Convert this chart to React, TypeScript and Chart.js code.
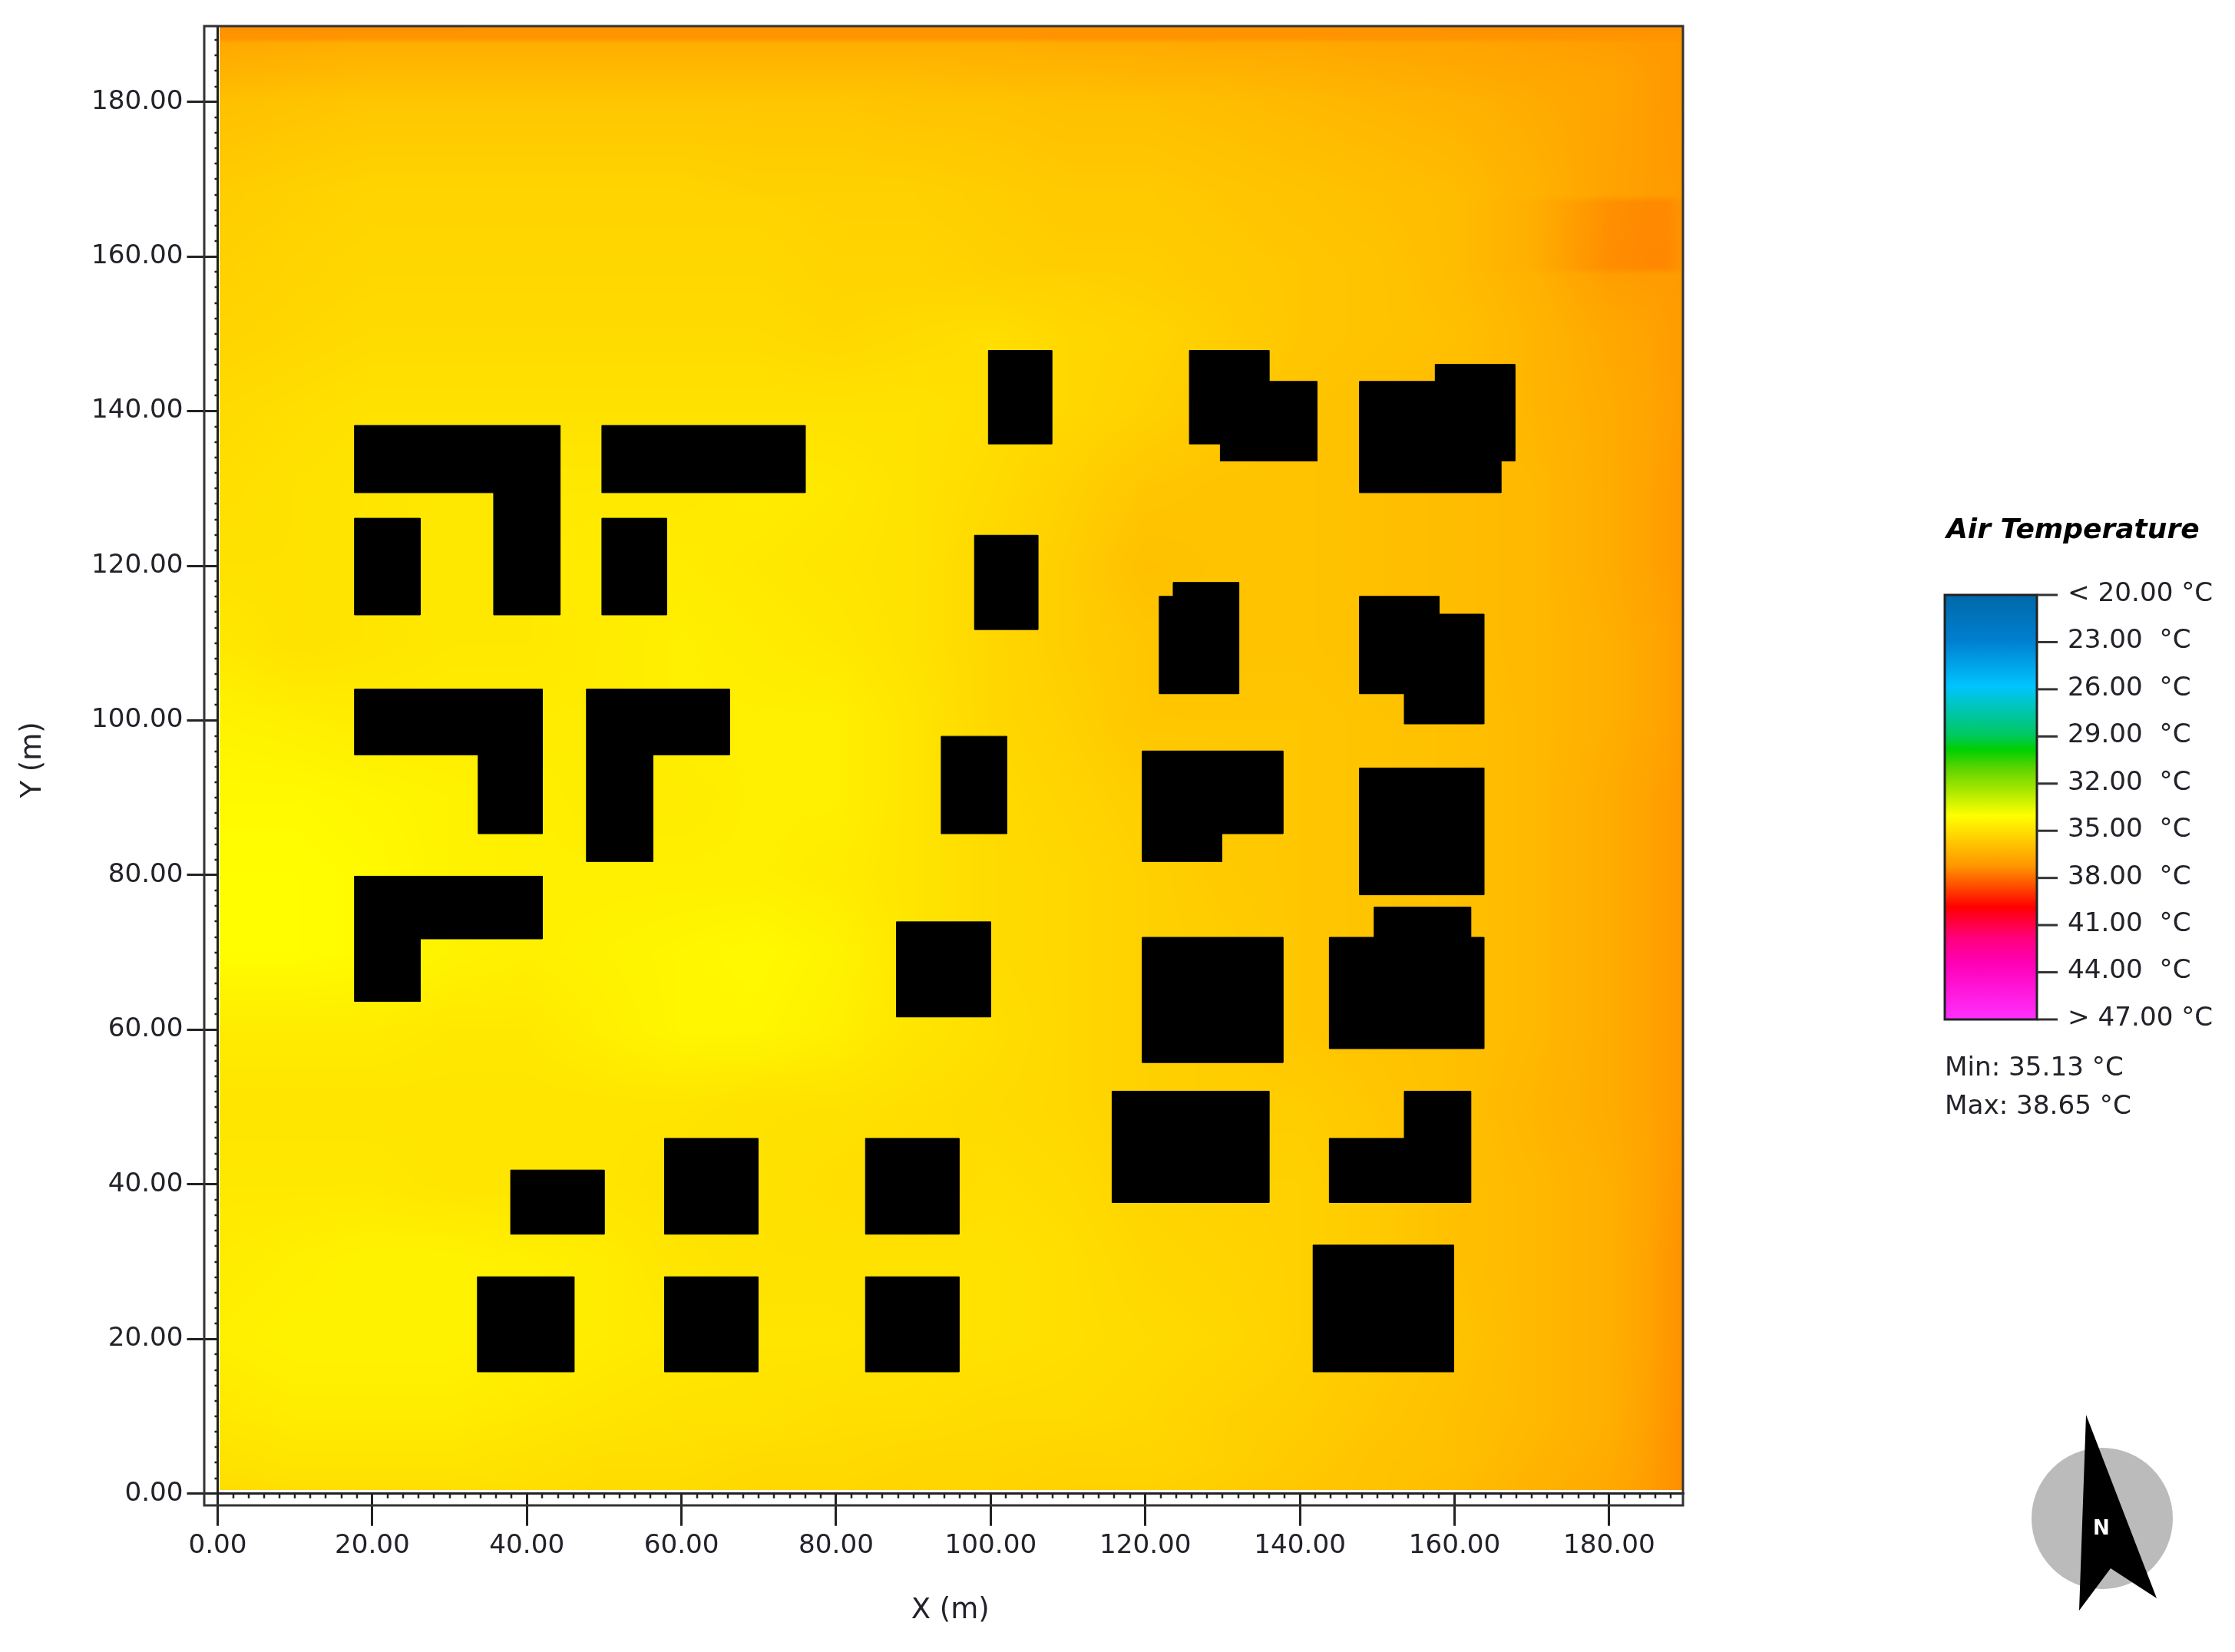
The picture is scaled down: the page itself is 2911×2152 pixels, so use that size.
import React, { useEffect, useRef } from "react";
import { Chart, registerables } from "chart.js";

Chart.register(...registerables);

// ---------- data ----------
const xGrid = [0, 10, 20, 30, 40, 50, 60, 70, 80, 90, 100, 110, 120, 130, 140, 150, 160, 170, 180, 185, 187.5, 190];
const yGrid = [190, 188.2, 187.6, 183, 180, 168, 167, 158.6, 157.6, 150, 140, 130, 120, 110, 100, 90, 80, 70, 60, 50, 40, 30, 20, 10, 4, 0];
const airTemperature = [
  [38.4, 38.4, 38.4, 38.4, 38.3, 38.3, 38.3, 38.3, 38.3, 38.3, 38.3, 38.3, 38.3, 38.3, 38.3, 38.3, 38.4, 38.4, 38.4, 38.4, 38.4, 38.4],
  [38.3, 38.3, 38.3, 38.3, 38.3, 38.3, 38.3, 38.3, 38.3, 38.3, 38.3, 38.3, 38.3, 38.3, 38.3, 38.3, 38.3, 38.3, 38.3, 38.3, 38.3, 38.3],
  [37.7, 37.6, 37.5, 37.5, 37.5, 37.5, 37.5, 37.5, 37.5, 37.5, 37.5, 37.6, 37.6, 37.7, 37.7, 37.8, 37.8, 37.9, 38.0, 38.1, 38.1, 38.2],
  [37.3, 37.2, 37.1, 37.1, 37.1, 37.1, 37.1, 37.1, 37.1, 37.1, 37.2, 37.2, 37.3, 37.3, 37.4, 37.5, 37.6, 37.7, 37.8, 38.0, 38.1, 38.2],
  [37.0, 36.9, 36.8, 36.8, 36.8, 36.8, 36.8, 36.8, 36.8, 36.9, 36.9, 37.0, 37.0, 37.1, 37.2, 37.3, 37.4, 37.6, 37.8, 38.0, 38.1, 38.2],
  [36.6, 36.5, 36.4, 36.4, 36.4, 36.4, 36.4, 36.5, 36.5, 36.5, 36.6, 36.7, 36.7, 36.8, 36.9, 37.0, 37.1, 37.4, 37.85, 38.0, 38.05, 38.1],
  [36.6, 36.5, 36.4, 36.4, 36.4, 36.4, 36.4, 36.4, 36.5, 36.5, 36.6, 36.7, 36.7, 36.8, 36.9, 37.0, 37.1, 37.5, 38.4, 38.6, 38.6, 38.2],
  [36.5, 36.4, 36.3, 36.3, 36.3, 36.3, 36.3, 36.3, 36.4, 36.4, 36.5, 36.6, 36.6, 36.7, 36.8, 36.9, 37.1, 37.5, 38.5, 38.65, 38.65, 38.2],
  [36.5, 36.4, 36.3, 36.3, 36.3, 36.3, 36.3, 36.3, 36.4, 36.4, 36.5, 36.5, 36.6, 36.7, 36.8, 36.9, 37.1, 37.4, 38.0, 38.05, 38.05, 38.1],
  [36.4, 36.3, 36.2, 36.2, 36.2, 36.2, 36.2, 36.2, 36.3, 36.2, 36.1, 36.3, 36.4, 36.6, 36.8, 36.9, 37.0, 37.3, 37.7, 37.85, 38.0, 38.1],
  [36.2, 36.1, 36.0, 36.0, 36.0, 36.0, 36.0, 36.0, 36.0, 36.0, 36.1, 36.3, 36.5, 36.7, 36.9, 37.0, 37.1, 37.3, 37.6, 37.8, 37.95, 38.1],
  [36.1, 36.0, 35.9, 35.8, 35.8, 35.8, 35.8, 35.7, 35.8, 36.0, 36.2, 36.5, 36.8, 36.9, 36.9, 37.0, 37.1, 37.2, 37.6, 37.85, 38.0, 38.2],
  [36.0, 36.0, 35.9, 35.8, 35.8, 35.7, 35.7, 35.8, 35.9, 36.0, 36.3, 36.6, 37.0, 36.9, 36.9, 37.0, 37.1, 37.2, 37.6, 37.85, 38.0, 38.2],
  [35.8, 36.0, 35.9, 35.8, 35.8, 35.7, 35.6, 35.7, 35.8, 36.0, 36.3, 36.6, 36.8, 36.9, 36.9, 37.0, 37.1, 37.2, 37.5, 37.75, 37.9, 38.1],
  [35.5, 35.6, 35.7, 35.7, 35.7, 35.7, 35.6, 35.6, 35.6, 35.9, 36.3, 36.5, 36.8, 36.8, 36.8, 36.9, 37.0, 37.2, 37.5, 37.75, 37.9, 38.1],
  [35.3, 35.3, 35.4, 35.5, 35.6, 35.7, 35.7, 35.6, 35.6, 35.9, 36.2, 36.4, 36.6, 36.7, 36.8, 36.9, 37.0, 37.2, 37.6, 37.85, 38.0, 38.2],
  [35.2, 35.2, 35.3, 35.5, 35.6, 35.6, 35.6, 35.6, 35.7, 35.9, 36.2, 36.3, 36.5, 36.7, 36.8, 36.9, 37.0, 37.2, 37.6, 37.85, 38.0, 38.2],
  [35.2, 35.2, 35.3, 35.5, 35.6, 35.5, 35.4, 35.3, 35.5, 35.9, 36.2, 36.3, 36.5, 36.6, 36.8, 36.9, 37.0, 37.2, 37.6, 37.85, 38.0, 38.2],
  [35.7, 35.7, 35.7, 35.8, 35.8, 35.6, 35.4, 35.4, 35.6, 35.9, 36.1, 36.3, 36.5, 36.6, 36.8, 36.9, 37.0, 37.2, 37.6, 37.85, 38.0, 38.2],
  [35.9, 35.9, 35.9, 35.9, 35.9, 35.9, 35.9, 36.0, 36.0, 36.1, 36.2, 36.3, 36.5, 36.6, 36.6, 36.8, 37.0, 37.3, 37.6, 37.85, 38.0, 38.2],
  [35.8, 35.8, 35.8, 35.9, 35.9, 35.9, 36.0, 36.0, 36.1, 36.2, 36.1, 36.2, 36.4, 36.5, 36.5, 36.7, 37.0, 37.2, 37.5, 37.8, 38.05, 38.3],
  [35.7, 35.6, 35.5, 35.5, 35.6, 35.7, 35.9, 36.0, 36.0, 36.0, 36.0, 36.1, 36.3, 36.4, 36.5, 36.7, 37.0, 37.2, 37.5, 37.85, 38.15, 38.4],
  [35.6, 35.5, 35.5, 35.5, 35.6, 35.7, 35.8, 35.9, 35.9, 36.0, 36.0, 36.1, 36.2, 36.3, 36.5, 36.7, 36.9, 37.2, 37.5, 37.85, 38.15, 38.4],
  [35.8, 35.7, 35.7, 35.7, 35.8, 35.9, 36.0, 36.0, 36.1, 36.1, 36.2, 36.2, 36.3, 36.5, 36.6, 36.8, 37.0, 37.2, 37.5, 37.9, 38.2, 38.5],
  [36.0, 35.9, 35.9, 35.9, 36.0, 36.1, 36.1, 36.2, 36.2, 36.3, 36.3, 36.4, 36.4, 36.5, 36.7, 36.9, 37.0, 37.3, 37.6, 37.95, 38.25, 38.5],
  [36.2, 36.1, 36.1, 36.1, 36.1, 36.2, 36.2, 36.3, 36.3, 36.4, 36.4, 36.5, 36.5, 36.6, 36.8, 36.9, 37.1, 37.4, 37.7, 38.0, 38.25, 38.5],
];

// building outlines, [x (m), y (m)] corner lists
const buildings: number[][][] = [
  [[17.7, 138.15], [44.3, 138.15], [44.3, 113.65], [35.7, 113.65], [35.7, 129.45], [17.7, 129.45]],
  [[49.7, 138.15], [76.0, 138.15], [76.0, 129.45], [49.7, 129.45]],
  [[17.7, 126.15], [26.2, 126.15], [26.2, 113.65], [17.7, 113.65]],
  [[49.7, 126.15], [58.1, 126.15], [58.1, 113.65], [49.7, 113.65]],
  [[17.7, 104.05], [42.0, 104.05], [42.0, 85.35], [33.7, 85.35], [33.7, 95.55], [17.7, 95.55]],
  [[47.7, 104.05], [66.2, 104.05], [66.2, 95.55], [56.3, 95.55], [56.3, 81.75], [47.7, 81.75]],
  [[17.7, 79.85], [42.0, 79.85], [42.0, 71.75], [26.2, 71.75], [26.2, 63.65], [17.7, 63.65]],
  [[99.7, 147.85], [107.9, 147.85], [107.9, 135.75], [99.7, 135.75]],
  [[97.9, 123.95], [106.1, 123.95], [106.1, 111.75], [97.9, 111.75]],
  [[93.6, 97.95], [102.1, 97.95], [102.1, 85.35], [93.6, 85.35]],
  [[87.8, 73.95], [100.0, 73.95], [100.0, 61.65], [87.8, 61.65]],
  [[125.7, 147.85], [136.0, 147.85], [136.0, 143.85], [142.2, 143.85], [142.2, 133.55], [129.7, 133.55], [129.7, 135.75], [125.7, 135.75]],
  [[147.7, 143.85], [157.5, 143.85], [157.5, 146.05], [167.8, 146.05], [167.8, 133.55], [166.0, 133.55], [166.0, 129.45], [147.7, 129.45]],
  [[121.8, 116.05], [123.6, 116.05], [123.6, 117.85], [132.1, 117.85], [132.1, 103.45], [121.8, 103.45]],
  [[147.7, 116.05], [158.0, 116.05], [158.0, 113.75], [163.8, 113.75], [163.8, 99.55], [153.5, 99.55], [153.5, 103.45], [147.7, 103.45]],
  [[119.6, 96.05], [137.8, 96.05], [137.8, 85.35], [129.9, 85.35], [129.9, 81.75], [119.6, 81.75]],
  [[147.7, 93.85], [163.8, 93.85], [163.8, 77.45], [147.7, 77.45]],
  [[119.6, 71.95], [137.8, 71.95], [137.8, 55.75], [119.6, 55.75]],
  [[149.6, 75.85], [162.1, 75.85], [162.1, 71.95], [163.8, 71.95], [163.8, 57.55], [143.8, 57.55], [143.8, 71.95], [149.6, 71.95]],
  [[115.7, 52.05], [136.0, 52.05], [136.0, 37.65], [115.7, 37.65]],
  [[153.5, 52.05], [162.1, 52.05], [162.1, 37.65], [143.8, 37.65], [143.8, 45.95], [153.5, 45.95]],
  [[37.9, 41.85], [50.0, 41.85], [50.0, 33.55], [37.9, 33.55]],
  [[57.8, 45.95], [69.9, 45.95], [69.9, 33.55], [57.8, 33.55]],
  [[83.8, 45.95], [95.9, 45.95], [95.9, 33.55], [83.8, 33.55]],
  [[33.6, 28.05], [46.1, 28.05], [46.1, 15.75], [33.6, 15.75]],
  [[57.8, 28.05], [69.9, 28.05], [69.9, 15.75], [57.8, 15.75]],
  [[83.8, 28.05], [95.9, 28.05], [95.9, 15.75], [83.8, 15.75]],
  [[141.7, 32.15], [159.9, 32.15], [159.9, 15.75], [141.7, 15.75]],
];

const legendLabels = ["< 20.00 °C", "23.00  °C", "26.00  °C", "29.00  °C", "32.00  °C", "35.00  °C", "38.00  °C", "41.00  °C", "44.00  °C", "> 47.00 °C"];
const legendTitle = "Air Temperature";
const minText = "Min: 35.13 °C";
const maxText = "Max: 38.65 °C";
const legendStops: [number, string][] = [
  [0, "#0068a8"], [0.11, "#0080d0"], [0.215, "#00c4ff"], [0.33, "#00c860"], [0.365, "#00d000"], [0.41, "#60d400"],
  [0.52, "#ffff00"], [0.64, "#ff9400"], [0.735, "#ff0000"], [0.81, "#ff0080"], [0.87, "#ff00b8"], [1, "#ff30ff"],
];

const FONT = '"DejaVu Sans", sans-serif';
const FONT_SIZE = 34.2;
const INK = "#22222a";

// ---------- helpers ----------
function tempToRgb(t: number): [number, number, number] {
  const g = Math.max(0, Math.min(255, 255 - 33.8 * (t - 35.13)));
  return [255, g, 0];
}

function locate(arr: number[], v: number, descending: boolean): [number, number] {
  const n = arr.length;
  for (let i = 0; i < n - 1; i++) {
    const a = arr[i], b = arr[i + 1];
    if (descending ? v >= b : v <= b) {
      const f = (v - a) / (b - a);
      return [i, Math.max(0, Math.min(1, f))];
    }
  }
  return [n - 2, 1];
}

const heatPlugin = {
  id: "heat",
  beforeDatasetsDraw(chart: any) {
    const { ctx, scales, chartArea } = chart;
    const x0 = Math.ceil(scales.x.getPixelForValue(0.2));
    const x1 = Math.floor(chartArea.right);
    const y0 = Math.ceil(chartArea.top);
    const y1 = Math.floor(scales.y.getPixelForValue(0.4));
    const w = x1 - x0, h = y1 - y0;
    const img = ctx.createImageData(w, h);
    const cols = [];
    for (let i = 0; i < w; i++) cols.push(locate(xGrid, scales.x.getValueForPixel(x0 + i + 0.5), false));
    let p = 0;
    for (let j = 0; j < h; j++) {
      const [r, fy] = locate(yGrid, scales.y.getValueForPixel(y0 + j + 0.5), true);
      const top = airTemperature[r], bot = airTemperature[r + 1];
      for (let i = 0; i < w; i++) {
        const [c, fx] = cols[i];
        const t = (top[c] * (1 - fx) + top[c + 1] * fx) * (1 - fy) + (bot[c] * (1 - fx) + bot[c + 1] * fx) * fy;
        const [R, G, B] = tempToRgb(t);
        img.data[p++] = R; img.data[p++] = G; img.data[p++] = B; img.data[p++] = 255;
      }
    }
    ctx.putImageData(img, x0, y0);
  },
};

const decorPlugin = {
  id: "decor",
  afterDraw(chart: any) {
    const { ctx, scales, chartArea } = chart;
    ctx.save();
    // minor ticks
    ctx.strokeStyle = "#222";
    ctx.lineWidth = 2.5;
    ctx.beginPath();
    for (let v = 2; v < 190; v += 2) {
      if (v % 20 === 0) continue;
      const px = Math.round(scales.x.getPixelForValue(v));
      ctx.moveTo(px, chartArea.bottom);
      ctx.lineTo(px, chartArea.bottom + 6);
      const py = Math.round(scales.y.getPixelForValue(v));
      ctx.moveTo(chartArea.left - 4, py);
      ctx.lineTo(chartArea.left, py);
    }
    ctx.stroke();
    // outer frame
    ctx.strokeStyle = "#333";
    ctx.lineWidth = 3;
    ctx.strokeRect(266, chartArea.top, chartArea.right - 266, 1961 - chartArea.top);

    // colour bar
    const bx = 2533, bw = 120, by = 775, bh = 553;
    const grad = ctx.createLinearGradient(0, by, 0, by + bh);
    legendStops.forEach(([o, c]) => grad.addColorStop(o, c));
    ctx.fillStyle = grad;
    ctx.fillRect(bx, by, bw, bh);
    ctx.lineWidth = 3;
    ctx.strokeStyle = "#222";
    ctx.strokeRect(bx, by, bw, bh);
    ctx.font = `${FONT_SIZE}px ${FONT}`;
    ctx.textBaseline = "middle";
    ctx.textAlign = "left";
    const step = bh / (legendLabels.length - 1);
    legendLabels.forEach((label, i) => {
      const y = by + i * step;
      ctx.strokeStyle = "#333";
      ctx.beginPath();
      ctx.moveTo(bx + bw, y);
      ctx.lineTo(2680, y);
      ctx.stroke();
      ctx.fillStyle = INK;
      ctx.fillText(label, 2693, y - 1);
    });
    ctx.fillText(minText, 2533, 1392);
    ctx.fillText(maxText, 2533, 1442);
    ctx.font = `italic 700 36px ${FONT}`;
    ctx.fillStyle = "#000";
    ctx.fillText(legendTitle, 2535, 692);

    // north arrow
    ctx.fillStyle = "#bbbbbb";
    ctx.beginPath();
    ctx.arc(2738, 1978, 92, 0, Math.PI * 2);
    ctx.fill();
    ctx.fillStyle = "#000";
    ctx.beginPath();
    ctx.moveTo(2717, 1843);
    ctx.lineTo(2809, 2082);
    ctx.lineTo(2749, 2043);
    ctx.lineTo(2708, 2098);
    ctx.closePath();
    ctx.fill();
    ctx.fillStyle = "#fff";
    ctx.font = `700 26px ${FONT}`;
    ctx.textAlign = "center";
    ctx.fillText("N", 2737, 1992);
    ctx.restore();
  },
};

export default function App() {
  const ref = useRef<HTMLCanvasElement>(null);
  useEffect(() => {
    document.body.style.margin = "0";
    const axisFont = { family: FONT, size: FONT_SIZE };
    const titleFont = { family: FONT, size: 37 };
    const chart = new Chart(ref.current!, {
      type: "scatter",
      data: {
        datasets: buildings.map((b) => ({
          data: [...b, b[0]].map(([x, y]) => ({ x, y })),
          showLine: true,
          fill: "shape",
          tension: 0,
          backgroundColor: "#000",
          borderColor: "#000",
          borderWidth: 1,
          pointRadius: 0,
          pointHoverRadius: 0,
        })),
      } as any,
      options: {
        animation: false,
        responsive: false,
        events: [],
        layout: { padding: { left: 0, top: 34, right: 719, bottom: 0 } },
        plugins: { legend: { display: false }, tooltip: { enabled: false } },
        scales: {
          x: {
            type: "linear",
            min: 0,
            max: 189.55,
            afterFit: (s: any) => { s.height = 206.3; },
            border: { display: true, color: "#222", width: 3 },
            grid: { drawOnChartArea: false, color: "#222", lineWidth: 3, tickLength: 42 },
            ticks: {
              stepSize: 20, includeBounds: false, maxRotation: 0, autoSkip: false, padding: 6,
              color: INK, font: axisFont, callback: (v: any) => Number(v).toFixed(2),
            },
            title: { display: true, text: "X (m)", color: INK, font: titleFont, padding: { top: 0, bottom: 31 } },
          },
          y: {
            type: "linear",
            min: 0,
            max: 189.8,
            afterFit: (s: any) => { s.width = 283.5; },
            border: { display: true, color: "#222", width: 3 },
            grid: { drawOnChartArea: false, color: "#222", lineWidth: 3, tickLength: 40 },
            ticks: {
              stepSize: 20, includeBounds: false, autoSkip: false, padding: 5,
              color: INK, font: axisFont, callback: (v: any) => Number(v).toFixed(2),
            },
            title: { display: true, text: "Y (m)", color: INK, font: titleFont, padding: { top: 21, bottom: 0 } },
          },
        },
      } as any,
      plugins: [heatPlugin, decorPlugin],
    });
    return () => chart.destroy();
  }, []);
  return <canvas ref={ref} width={2911} height={2152} style={{ display: "block", width: 2911, height: 2152 }} />;
}
